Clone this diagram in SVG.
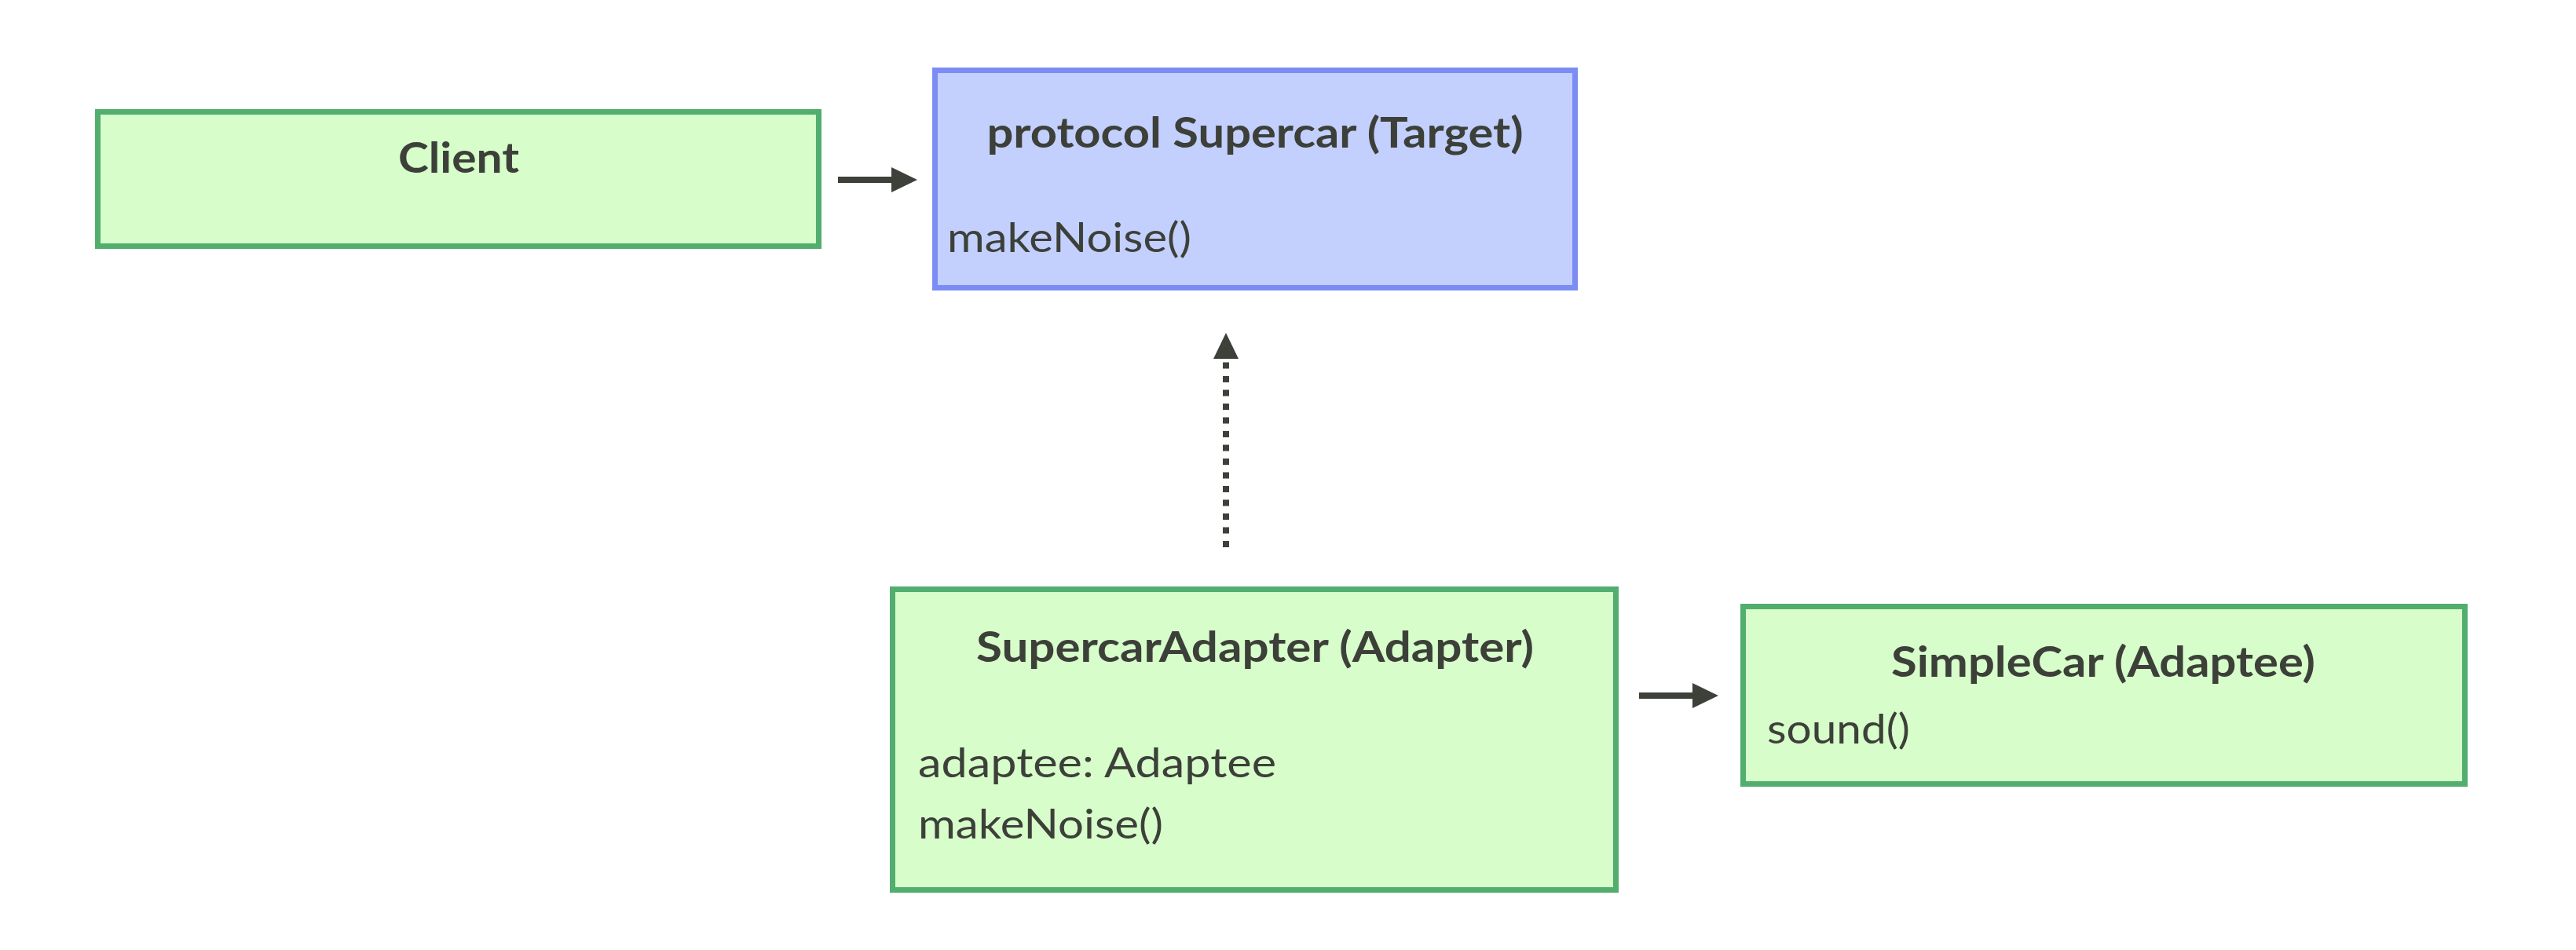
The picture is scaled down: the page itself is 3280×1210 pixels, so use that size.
<svg xmlns="http://www.w3.org/2000/svg" width="3280" height="1210" viewBox="0 0 3280 1210">
  <style>
    .green { fill: #d7fdca; stroke: #52ae6e; stroke-width: 7; }
    .blue { fill: #c3cffc; stroke: #7b8df5; stroke-width: 7; }
    .title { font-family: Lato, "Noto Sans", "Liberation Sans", sans-serif; font-weight: 700; font-size: 53px; fill: #3c4039; text-anchor: middle; }
    .body { font-family: Lato, "Noto Sans", "Liberation Sans", sans-serif; font-weight: 400; font-size: 53px; fill: #3c4039; }
    .conn { stroke: #3d4139; stroke-width: 8; fill: none; }
    .dotted { stroke-dasharray: 8 9.5; }
  </style>
  <defs>
    <marker id="ah" markerUnits="userSpaceOnUse" markerWidth="34" markerHeight="32" refX="0" refY="16" orient="auto">
      <path d="M0,0 L33,16 L0,32 z" fill="#3d4139"/>
    </marker>
  </defs>
  <rect width="3280" height="1210" fill="#ffffff"/>

  <g id="client">
    <rect class="green" x="124.5" y="142.5" width="918" height="171"/>
    <text class="title" x="584" y="220" textLength="154" lengthAdjust="spacingAndGlyphs">Client</text>
  </g>

  <g id="supercar">
    <rect class="blue" x="1190.5" y="89.5" width="815" height="277"/>
    <text class="title" x="1598" y="188" textLength="683" lengthAdjust="spacingAndGlyphs">protocol Supercar (Target)</text>
    <text class="body" x="1206" y="321" textLength="311" lengthAdjust="spacingAndGlyphs">makeNoise()</text>
  </g>

  <g id="adapter">
    <rect class="green" x="1136.5" y="750.5" width="921" height="383"/>
    <text class="title" x="1598" y="843" textLength="710" lengthAdjust="spacingAndGlyphs">SupercarAdapter (Adapter)</text>
    <text class="body" x="1169" y="990" textLength="456" lengthAdjust="spacingAndGlyphs">adaptee: Adaptee</text>
    <text class="body" x="1169" y="1068" textLength="312" lengthAdjust="spacingAndGlyphs">makeNoise()</text>
  </g>

  <g id="simplecar">
    <rect class="green" x="2219.5" y="772.5" width="919" height="226"/>
    <text class="title" x="2678" y="862" textLength="540" lengthAdjust="spacingAndGlyphs">SimpleCar (Adaptee)</text>
    <text class="body" x="2250" y="947" textLength="182" lengthAdjust="spacingAndGlyphs">sound()</text>
  </g>

  <g id="connectors">
    <line class="conn" x1="1067" y1="229" x2="1135" y2="229" marker-end="url(#ah)"/>
    <line class="conn dotted" x1="1561" y1="697" x2="1561" y2="457" marker-end="url(#ah)"/>
    <line class="conn" x1="2087" y1="886" x2="2155" y2="886" marker-end="url(#ah)"/>
  </g>
</svg>
